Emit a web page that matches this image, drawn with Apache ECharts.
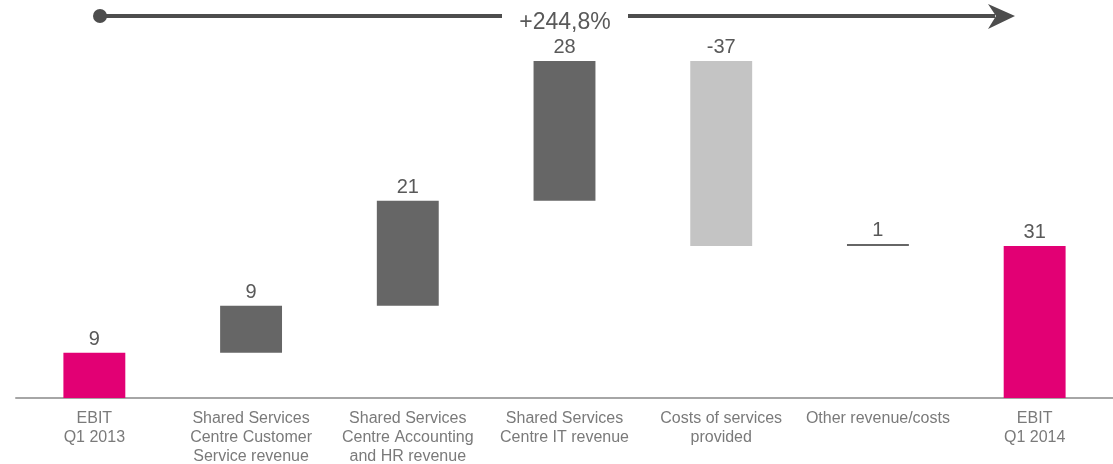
<!DOCTYPE html>
<html>
<head>
<meta charset="utf-8">
<script src="https://cdn.jsdelivr.net/npm/echarts@6/dist/echarts.min.js"></script>
<style>
    html, body { margin: 0; padding: 0; background: #fff; }
    #echarts { width: 1113px; height: 464px; }
</style>
</head>
<body>
<div id="echarts"></div>
<script>
// categories of the bridge
var categories = [
    'EBIT\nQ1 2013',
    'Shared Services\nCentre Customer\nService revenue',
    'Shared Services\nCentre Accounting\nand HR revenue',
    'Shared Services\nCentre IT revenue',
    'Costs of services\nprovided',
    'Other revenue/costs',
    'EBIT\nQ1 2014'
];
// first and last are totals, the rest are changes
var stepValues = [9.2, 9.6, 21.4, 28.5, -37.7, 0.4, 31.0];
// printed labels above the bars
var stepLabels = ['9', '9', '21', '28', '-37', '1', '31'];
var growthText = '+244,8%';

var barColors = ['#e20074', '#666666', '#666666', '#666666', '#c4c4c4', '#666666', '#e20074'];

var baseData = [];
var showData = [];
var running = 0;
stepValues.forEach(function (v, i) {
    if (i == 0 || i == stepValues.length - 1) {
        baseData.push(0);
        showData.push({value: v, itemStyle: {color: barColors[i]}});
        running = v;
    } else if (v >= 0) {
        baseData.push(running);
        showData.push({value: v, itemStyle: {color: barColors[i]}});
        running += v;
    } else {
        baseData.push(running + v);
        showData.push({value: -v, itemStyle: {color: barColors[i]}});
        running += v;
    }
});

var myChart = echarts.init(document.getElementById('echarts'));
var option = {
    backgroundColor: '#fff',
    animation: false,
    grid: {
        left: 16,
        right: 0,
        top: 30,
        bottom: 66,
        outerBoundsMode: 'none'
    },
    xAxis: [
        {
            type: 'category',
            data: categories,
            axisLine: {
                lineStyle: {color: '#a6a6a6', width: 2}
            },
            axisTick: {show: false},
            axisLabel: {
                interval: 0,
                margin: 11,
                color: '#7a7a7a',
                fontSize: 16,
                lineHeight: 19,
                fontFamily: 'Liberation Sans, Arial, sans-serif'
            }
        }
    ],
    yAxis: [
        {
            type: 'value',
            min: 0,
            max: 75,
            show: false,
            splitLine: {show: false}
        }
    ],
    series: [
        {
            type: 'bar',
            stack: 'bridge',
            barWidth: '39.5%',
            itemStyle: {color: 'transparent'},
            silent: true,
            data: baseData
        },
        {
            type: 'bar',
            stack: 'bridge',
            barWidth: '39.5%',
            label: {
                show: true,
                position: 'top',
                distance: 3,
                color: '#595959',
                fontSize: 20,
                fontFamily: 'Liberation Sans, Arial, sans-serif',
                formatter: function (p) {
                    return stepLabels[p.dataIndex];
                }
            },
            data: showData
        }
    ],
    graphic: [
        {
            type: 'line',
            shape: {x1: 100, y1: 16, x2: 502, y2: 16},
            style: {stroke: '#4d4d4d', lineWidth: 4}
        },
        {
            type: 'circle',
            shape: {cx: 100, cy: 16, r: 7},
            style: {fill: '#4d4d4d'}
        },
        {
            type: 'text',
            x: 565,
            y: 23,
            style: {
                text: growthText,
                fill: '#595959',
                fontSize: 23,
                fontFamily: 'Liberation Sans, Arial, sans-serif',
                align: 'center',
                verticalAlign: 'middle'
            }
        },
        {
            type: 'line',
            shape: {x1: 628, y1: 16, x2: 995, y2: 16},
            style: {stroke: '#4d4d4d', lineWidth: 4}
        },
        {
            type: 'polygon',
            shape: {points: [[988, 4], [1015, 16], [988, 29], [996, 16]]},
            style: {fill: '#4d4d4d'}
        }
    ]
};
myChart.setOption(option);
</script>
</body>
</html>
